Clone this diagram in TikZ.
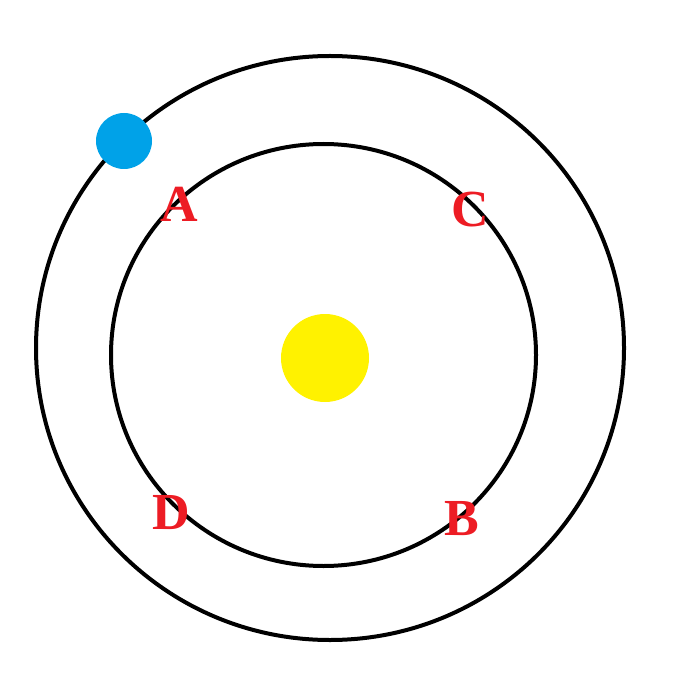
\documentclass[tikz,border=0pt]{standalone}
\usepackage{fontspec}
\setmainfont{Liberation Serif}
\definecolor{lred}{RGB}{237,28,36}
\definecolor{lblue}{RGB}{0,162,232}
\definecolor{lyellow}{RGB}{255,242,0}
\tikzset{
  orbit/.style={draw=black,line width=4pt},
  lbl/.style={text=lred,font=\fontsize{52}{52}\selectfont\bfseries,anchor=base,inner sep=0pt}
}
\begin{document}
\begin{tikzpicture}[x=1pt,y=-1pt]
\useasboundingbox (0,0) rectangle (700,700);
\draw[orbit] (330,348) ellipse [x radius=294, y radius=292];
\draw[orbit] (323.5,355) ellipse [x radius=212.5, y radius=211];
\fill[lyellow] (325,358) circle (44);
\fill[lblue] (124,141) circle (28);
\node[lbl] (A) at (179,222) {A};
\node[lbl] (C) at (470,227) {C};
\node[lbl] (D) at (171,529) {D};
\node[lbl] (B) at (462,535) {B};
\end{tikzpicture}
\end{document}
